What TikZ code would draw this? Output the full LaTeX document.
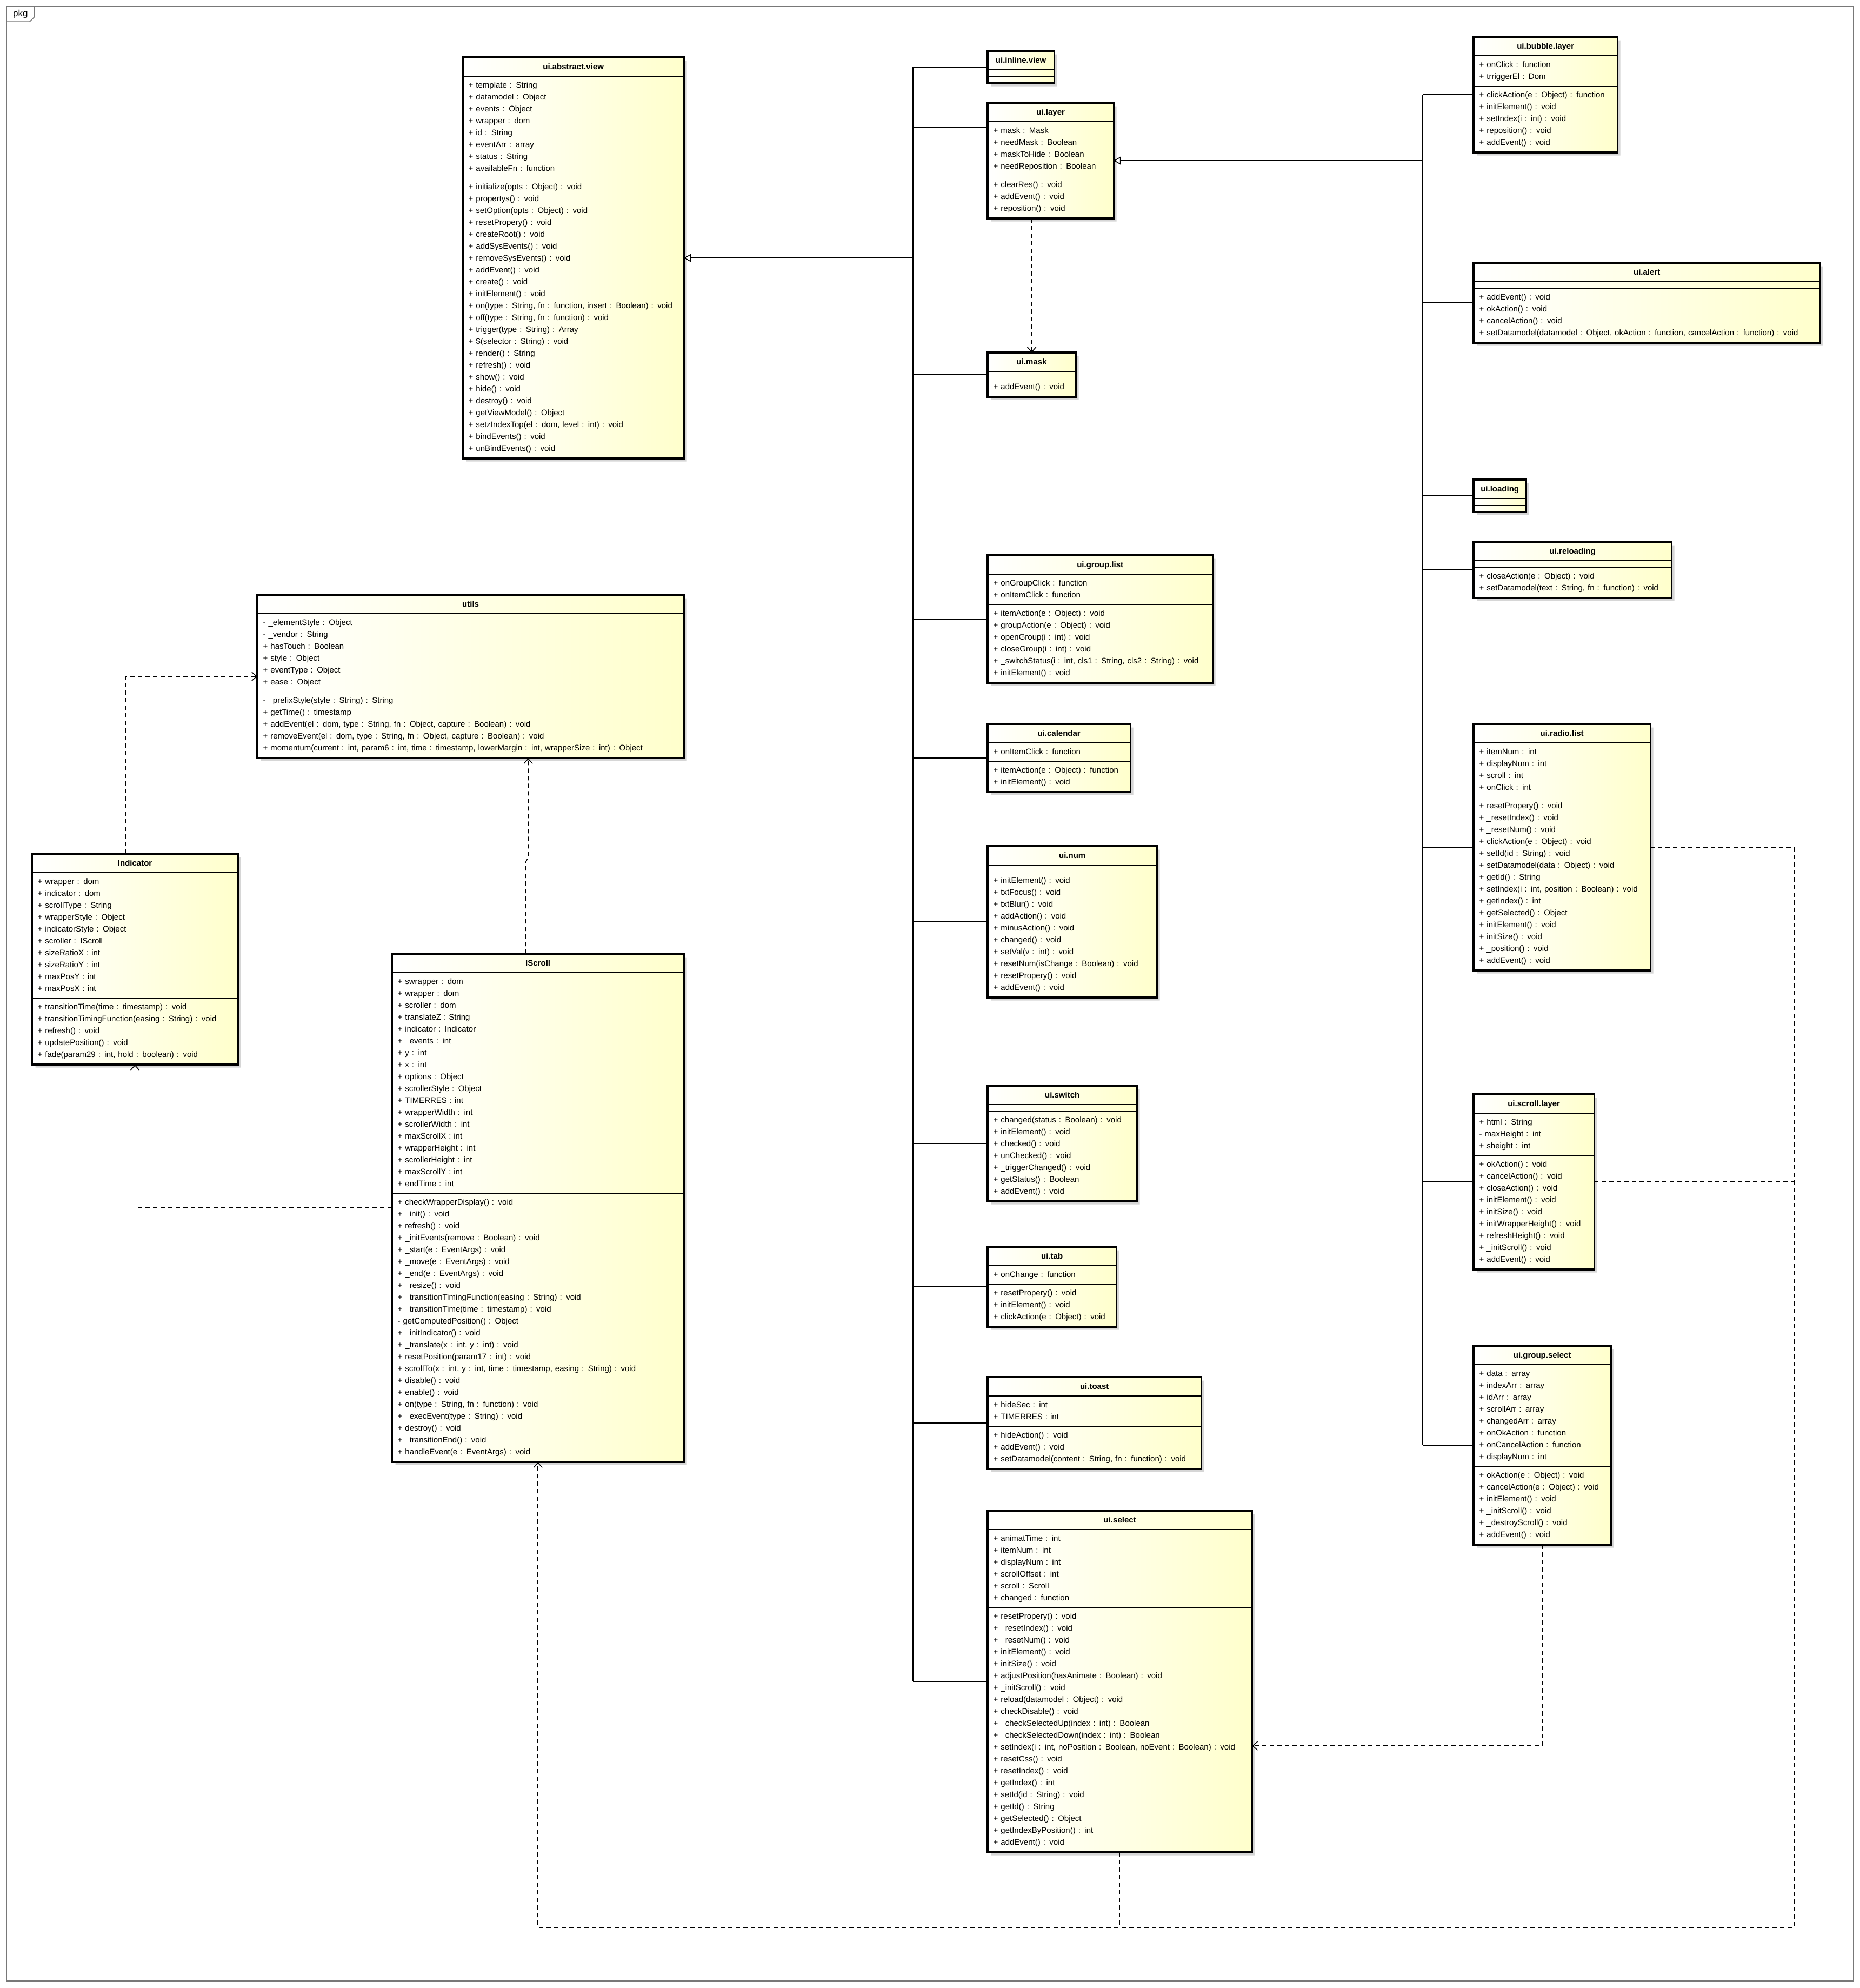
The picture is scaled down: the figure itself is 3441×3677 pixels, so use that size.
\documentclass[tikz,border=0pt]{standalone}
\usepackage{fontspec}
\setmainfont{Liberation Sans}
\usetikzlibrary{arrows.meta,positioning,calc,shapes.multipart,shadows}
\definecolor{umlYellow}{RGB}{255,255,204}
\definecolor{umlShadow}{RGB}{214,214,214}
\definecolor{frameGray}{RGB}{120,120,120}
\newcommand{\umlfont}{\fontsize{15}{22}\selectfont}
\newcommand{\umltitle}[1]{\makebox[\linewidth]{\strut\textbf{#1}}}

\begin{document}
\begin{tikzpicture}[x=1pt, y=-1pt,
    umlclass/.style={rectangle split, rectangle split parts=3, draw, line width=1.3pt,
      left color=white, right color=umlYellow,
      drop shadow={shadow xshift=6pt, shadow yshift=-6pt, fill=umlShadow, opacity=1},
      anchor=north west, align=left, inner xsep=10pt, inner ysep=5.5pt, font=\umlfont},
    link/.style={line width=1.5pt},
    gen/.style={line width=1.5pt, -{Triangle[open, length=13pt, width=15pt]}},
    depline/.style={line width=1.5pt, dash pattern=on 8pt off 6pt},
    dep/.style={depline, -{Straight Barb[length=9pt, width=16pt]}}]
    \fill[white] (0,0) rectangle (3441,3677);
    \useasboundingbox (0,0) rectangle (3441,3677);
    % package frame
    \draw[frameGray, line width=1.5pt] (12,12) rectangle (3429,3664);
    \node[anchor=north west, font=\fontsize{17}{20}\selectfont, inner xsep=12pt, inner ysep=6pt] (pkg) at (12,12) {pkg};
    \draw[frameGray, line width=1.5pt] (pkg.south west) -- ($(pkg.south east)+(-9,0)$) -- ($(pkg.south east)+(0,-9)$) -- (pkg.north east);

    % left part
    \node[umlclass, text width=388pt] (view) at (856,106) {\umltitle{ui.abstract.view}
      \nodepart{second}\strut + template : String\\+ datamodel : Object\\+ events : Object\\+ wrapper : dom\\+ id : String\\+ eventArr : array\\+ status : String\\+ availableFn : function\strut
      \nodepart{third}\strut + initialize(opts : Object) : void\\+ propertys() : void\\+ setOption(opts : Object) : void\\+ resetPropery() : void\\+ createRoot() : void\\+ addSysEvents() : void\\+ removeSysEvents() : void\\+ addEvent() : void\\+ create() : void\\+ initElement() : void\\+ on(type : String, fn : function, insert : Boolean) : void\\+ off(type : String, fn : function) : void\\+ trigger(type : String) : Array\\+ \$(selector : String) : void\\+ render() : String\\+ refresh() : void\\+ show() : void\\+ hide() : void\\+ destroy() : void\\+ getViewModel() : Object\\+ setzIndexTop(el : dom, level : int) : void\\+ bindEvents() : void\\+ unBindEvents() : void\strut};
    \node[umlclass, text width=768pt] (utils) at (476,1100) {\umltitle{utils}
      \nodepart{second}\strut - \_elementStyle : Object\\- \_vendor : String\\+ hasTouch : Boolean\\+ style : Object\\+ eventType : Object\\+ ease : Object\strut
      \nodepart{third}\strut - \_prefixStyle(style : String) : String\\+ getTime() : timestamp\\+ addEvent(el : dom, type : String, fn : Object, capture : Boolean) : void\\+ removeEvent(el : dom, type : String, fn : Object, capture : Boolean) : void\\+ momentum(current : int, param6 : int, time : timestamp, lowerMargin : int, wrapperSize : int) : Object\strut};
    \node[umlclass, text width=360pt] (indicator) at (59,1579) {\umltitle{Indicator}
      \nodepart{second}\strut + wrapper : dom\\+ indicator : dom\\+ scrollType : String\\+ wrapperStyle : Object\\+ indicatorStyle : Object\\+ scroller : IScroll\\+ sizeRatioX : int\\+ sizeRatioY : int\\+ maxPosY : int\\+ maxPosX : int\strut
      \nodepart{third}\strut + transitionTime(time : timestamp) : void\\+ transitionTimingFunction(easing : String) : void\\+ refresh() : void\\+ updatePosition() : void\\+ fade(param29 : int, hold : boolean) : void\strut};
    \node[umlclass, text width=519pt] (iscroll) at (725,1764) {\umltitle{IScroll}
      \nodepart{second}\strut + swrapper : dom\\+ wrapper : dom\\+ scroller : dom\\+ translateZ : String\\+ indicator : Indicator\\+ \_events : int\\+ y : int\\+ x : int\\+ options : Object\\+ scrollerStyle : Object\\+ TIMERRES : int\\+ wrapperWidth : int\\+ scrollerWidth : int\\+ maxScrollX : int\\+ wrapperHeight : int\\+ scrollerHeight : int\\+ maxScrollY : int\\+ endTime : int\strut
      \nodepart{third}\strut + checkWrapperDisplay() : void\\+ \_init() : void\\+ refresh() : void\\+ \_initEvents(remove : Boolean) : void\\+ \_start(e : EventArgs) : void\\+ \_move(e : EventArgs) : void\\+ \_end(e : EventArgs) : void\\+ \_resize() : void\\+ \_transitionTimingFunction(easing : String) : void\\+ \_transitionTime(time : timestamp) : void\\- getComputedPosition() : Object\\+ \_initIndicator() : void\\+ \_translate(x : int, y : int) : void\\+ resetPosition(param17 : int) : void\\+ scrollTo(x : int, y : int, time : timestamp, easing : String) : void\\+ disable() : void\\+ enable() : void\\+ on(type : String, fn : function) : void\\+ \_execEvent(type : String) : void\\+ destroy() : void\\+ \_transitionEnd() : void\\+ handleEvent(e : EventArgs) : void\strut};

    % middle column
    \node[umlclass, text width=102pt] (inline) at (1827,94) {\umltitle{ui.inline.view}
      \nodepart{second}\nodepart{third}};
    \node[umlclass, text width=212pt] (layer) at (1827,190) {\umltitle{ui.layer}
      \nodepart{second}\strut + mask : Mask\\+ needMask : Boolean\\+ maskToHide : Boolean\\+ needReposition : Boolean\strut
      \nodepart{third}\strut + clearRes() : void\\+ addEvent() : void\\+ reposition() : void\strut};
    \node[umlclass, text width=142pt] (mask) at (1827,652) {\umltitle{ui.mask}
      \nodepart{second}\nodepart{third}\strut + addEvent() : void\strut};
    \node[umlclass, text width=395pt] (grouplist) at (1827,1027) {\umltitle{ui.group.list}
      \nodepart{second}\strut + onGroupClick : function\\+ onItemClick : function\strut
      \nodepart{third}\strut + itemAction(e : Object) : void\\+ groupAction(e : Object) : void\\+ openGroup(i : int) : void\\+ closeGroup(i : int) : void\\+ \_switchStatus(i : int, cls1 : String, cls2 : String) : void\\+ initElement() : void\strut};
    \node[umlclass, text width=243pt] (calendar) at (1827,1339) {\umltitle{ui.calendar}
      \nodepart{second}\strut + onItemClick : function\strut
      \nodepart{third}\strut + itemAction(e : Object) : function\\+ initElement() : void\strut};
    \node[umlclass, text width=292pt] (num) at (1827,1565) {\umltitle{ui.num}
      \nodepart{second}\nodepart{third}\strut + initElement() : void\\+ txtFocus() : void\\+ txtBlur() : void\\+ addAction() : void\\+ minusAction() : void\\+ changed() : void\\+ setVal(v : int) : void\\+ resetNum(isChange : Boolean) : void\\+ resetPropery() : void\\+ addEvent() : void\strut};
    \node[umlclass, text width=255pt] (switch) at (1827,2008) {\umltitle{ui.switch}
      \nodepart{second}\nodepart{third}\strut + changed(status : Boolean) : void\\+ initElement() : void\\+ checked() : void\\+ unChecked() : void\\+ \_triggerChanged() : void\\+ getStatus() : Boolean\\+ addEvent() : void\strut};
    \node[umlclass, text width=217pt] (tab) at (1827,2306) {\umltitle{ui.tab}
      \nodepart{second}\strut + onChange : function\strut
      \nodepart{third}\strut + resetPropery() : void\\+ initElement() : void\\+ clickAction(e : Object) : void\strut};
    \node[umlclass, text width=374pt] (toast) at (1827,2547) {\umltitle{ui.toast}
      \nodepart{second}\strut + hideSec : int\\+ TIMERRES : int\strut
      \nodepart{third}\strut + hideAction() : void\\+ addEvent() : void\\+ setDatamodel(content : String, fn : function) : void\strut};
    \node[umlclass, text width=468pt] (select) at (1827,2794) {\umltitle{ui.select}
      \nodepart{second}\strut + animatTime : int\\+ itemNum : int\\+ displayNum : int\\+ scrollOffset : int\\+ scroll : Scroll\\+ changed : function\strut
      \nodepart{third}\strut + resetPropery() : void\\+ \_resetIndex() : void\\+ \_resetNum() : void\\+ initElement() : void\\+ initSize() : void\\+ adjustPosition(hasAnimate : Boolean) : void\\+ \_initScroll() : void\\+ reload(datamodel : Object) : void\\+ checkDisable() : void\\+ \_checkSelectedUp(index : int) : Boolean\\+ \_checkSelectedDown(index : int) : Boolean\\+ setIndex(i : int, noPosition : Boolean, noEvent : Boolean) : void\\+ resetCss() : void\\+ resetIndex() : void\\+ getIndex() : int\\+ setId(id : String) : void\\+ getId() : String\\+ getSelected() : Object\\+ getIndexByPosition() : int\\+ addEvent() : void\strut};

    % right column
    \node[umlclass, text width=245pt] (bubble) at (2726,68) {\umltitle{ui.bubble.layer}
      \nodepart{second}\strut + onClick : function\\+ trriggerEl : Dom\strut
      \nodepart{third}\strut + clickAction(e : Object) : function\\+ initElement() : void\\+ setIndex(i : int) : void\\+ reposition() : void\\+ addEvent() : void\strut};
    \node[umlclass, text width=620pt] (alert) at (2726,486) {\umltitle{ui.alert}
      \nodepart{second}\nodepart{third}\strut + addEvent() : void\\+ okAction() : void\\+ cancelAction() : void\\+ setDatamodel(datamodel : Object, okAction : function, cancelAction : function) : void\strut};
    \node[umlclass, text width=76pt] (loading) at (2726,887) {\umltitle{ui.loading}
      \nodepart{second}\nodepart{third}};
    \node[umlclass, text width=345pt] (reloading) at (2726,1002) {\umltitle{ui.reloading}
      \nodepart{second}\nodepart{third}\strut + closeAction(e : Object) : void\\+ setDatamodel(text : String, fn : function) : void\strut};
    \node[umlclass, text width=306pt] (radiolist) at (2726,1339) {\umltitle{ui.radio.list}
      \nodepart{second}\strut + itemNum : int\\+ displayNum : int\\+ scroll : int\\+ onClick : int\strut
      \nodepart{third}\strut + resetPropery() : void\\+ \_resetIndex() : void\\+ \_resetNum() : void\\+ clickAction(e : Object) : void\\+ setId(id : String) : void\\+ setDatamodel(data : Object) : void\\+ getId() : String\\+ setIndex(i : int, position : Boolean) : void\\+ getIndex() : int\\+ getSelected() : Object\\+ initElement() : void\\+ initSize() : void\\+ \_position() : void\\+ addEvent() : void\strut};
    \node[umlclass, text width=202pt] (scrolllayer) at (2726,2024) {\umltitle{ui.scroll.layer}
      \nodepart{second}\strut + html : String\\- maxHeight : int\\+ sheight : int\strut
      \nodepart{third}\strut + okAction() : void\\+ cancelAction() : void\\+ closeAction() : void\\+ initElement() : void\\+ initSize() : void\\+ initWrapperHeight() : void\\+ refreshHeight() : void\\+ \_initScroll() : void\\+ addEvent() : void\strut};
    \node[umlclass, text width=233pt] (groupselect) at (2726,2489) {\umltitle{ui.group.select}
      \nodepart{second}\strut + data : array\\+ indexArr : array\\+ idArr : array\\+ scrollArr : array\\+ changedArr : array\\+ onOkAction : function\\+ onCancelAction : function\\+ displayNum : int\strut
      \nodepart{third}\strut + okAction(e : Object) : void\\+ cancelAction(e : Object) : void\\+ initElement() : void\\+ \_initScroll() : void\\+ \_destroyScroll() : void\\+ addEvent() : void\strut};

    % heavy outline of the class boxes
    \foreach \c in {view,utils,indicator,iscroll,inline,layer,mask,grouplist,calendar,num,switch,tab,toast,select,bubble,alert,loading,reloading,radiolist,scrolllayer,groupselect}
      \draw[line width=3.5pt] (\c.north west) rectangle (\c.south east);

    % generalisation: middle column extends ui.abstract.view
    \coordinate (busM) at (1689,0);
    \draw[link] (busM |- inline.west) -- (busM |- select.west);
    \foreach \c in {inline,mask,grouplist,calendar,num,switch,tab,toast,select}
      \draw[link] (busM |- \c.west) -- (\c.west);
    \draw[link] ($(busM |- layer.north west)+(0,45)$) -- ($(layer.north west)+(0,45)$);
    \draw[gen] (busM |- view.east) -- (view.east);
    % generalisation: right column extends ui.layer
    \coordinate (busR) at (2632,0);
    \draw[link] (busR |- bubble.west) -- (busR |- groupselect.west);
    \foreach \c in {bubble,alert,loading,reloading,radiolist,scrolllayer,groupselect}
      \draw[link] (busR |- \c.west) -- (\c.west);
    \draw[gen] (busR |- layer.east) -- (layer.east);

    % dependencies
    \coordinate (depX) at (3319,0);
    \coordinate (depY) at (0,3565);
    \draw[dep] (mask.north |- layer.south) -- (mask.north);
    \draw[dep] ($(indicator.north)+(-17,0)$) |- (utils.west);
    \draw[dep] ($(iscroll.north)+(-23,0)$) -- ++(0,-169) -- ++(5,-9) -- ($(iscroll.north |- utils.south)+(-18,0)$);
    \draw[dep] (iscroll.west) -| (indicator.south);
    \draw[dep] (groupselect.south) |- ($(select.east)+(0,119)$);
    \draw[dep] (radiolist.east) -- (depX |- radiolist.east) -- (depX |- depY) -- (iscroll.south |- depY) -- (iscroll.south);
    \draw[depline] (scrolllayer.east) -- (depX |- scrolllayer.east);
    \draw[depline] (select.south) -- (select.south |- depY);
\end{tikzpicture}
\end{document}
